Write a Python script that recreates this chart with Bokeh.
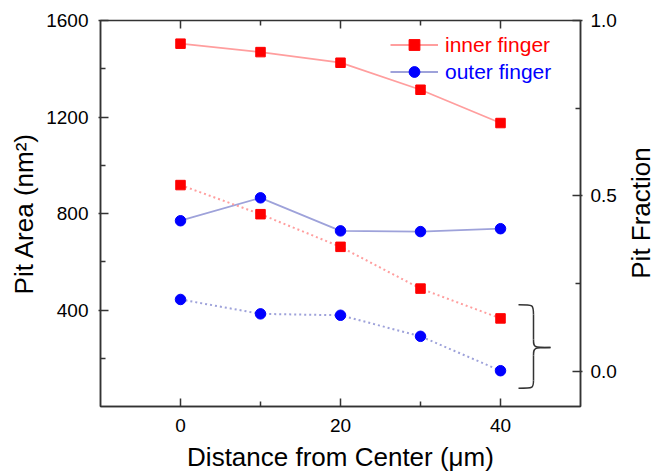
import math
from bokeh.plotting import figure
from bokeh.models import (Range1d, LinearAxis, FixedTicker, Legend, LegendItem,
                          NumeralTickFormatter, Label)
from bokeh.embed import file_html
from bokeh.resources import INLINE

# ---- data ----
distance = [0, 10, 20, 30, 40]
inner_area = [1504, 1469, 1425, 1313, 1175]
outer_area = [770, 865, 728, 725, 737]
inner_frac = [0.531, 0.448, 0.355, 0.236, 0.151]
outer_frac = [0.205, 0.164, 0.160, 0.100, 0.002]

x_ticks = [0, 20, 40]
x_minor = [10, 30]
area_ticks = [400, 800, 1200, 1600]
area_minor = [200, 600, 1000, 1400]
frac_ticks = [0.0, 0.5, 1.0]
frac_minor = [0.25, 0.75]

FONT = "Liberation Sans"
AX = "#333333"
RED = "#FF0000"
BLUE = "#0000FF"
RED_L = "#FF9E9E"
BLUE_L = "#9EA2DA"

W, H = 667, 474
BL, BR, BT, BB = 100, 87, 20, 67
X0, X1 = -10, 50
Y0, Y1 = 0, 1600

p = figure(width=W, height=H, output_backend="svg", toolbar_location=None,
           x_range=Range1d(X0, X1), y_range=Range1d(Y0, Y1),
           min_border_left=BL, min_border_right=BR, min_border_top=BT,
           min_border_bottom=BB)
p.extra_y_ranges = {"frac": Range1d(-0.1, 1.0)}
p.grid.visible = False
p.outline_line_color = AX
p.outline_line_width = 1.5
p.background_fill_color = "white"
p.border_fill_color = "white"


def style_axis(ax, ticks, minor):
    ax.ticker = FixedTicker(ticks=ticks, minor_ticks=minor)
    ax.axis_line_color = AX
    ax.axis_line_width = 1.5
    ax.major_tick_line_color = AX
    ax.minor_tick_line_color = AX
    ax.major_tick_line_width = 1.5
    ax.minor_tick_line_width = 1.5
    ax.major_tick_in = 8
    ax.major_tick_out = 2
    ax.minor_tick_in = 5
    ax.minor_tick_out = 0
    ax.major_label_text_font = FONT
    ax.major_label_text_font_size = "19px"
    ax.major_label_text_color = "black"
    ax.axis_label_text_font = FONT
    ax.axis_label_text_font_size = "26px"
    ax.axis_label_text_font_style = "normal"
    ax.axis_label_text_color = "black"


# left axis
style_axis(p.yaxis[0], area_ticks, area_minor)
p.yaxis[0].axis_label = "Pit Area (nm²)"
p.yaxis[0].major_label_standoff = 10
p.yaxis[0].axis_label_standoff = 4

# bottom axis
style_axis(p.xaxis[0], x_ticks, x_minor)
p.xaxis[0].major_tick_out = 0
p.xaxis[0].axis_label = "Distance from Center (μm)"
p.xaxis[0].major_label_standoff = 12
p.xaxis[0].axis_label_standoff = 7

# right axis
raxis = LinearAxis(y_range_name="frac",
                   formatter=NumeralTickFormatter(format="0.0"))
style_axis(raxis, frac_ticks, frac_minor)
raxis.major_label_standoff = 8
p.add_layout(raxis, "right")

frame_w = W - BL - BR
frame_h = H - BT - BB
# right-hand title, reading bottom-to-top, in the right side panel
p.add_layout(Label(x=21, y=frame_h / 2, x_units="screen", y_units="screen",
                   text="Pit Fraction", angle=math.pi / 2,
                   text_align="center", text_baseline="middle",
                   text_font=FONT, text_font_size="26px", text_color="black"),
             "right")

# top-edge ticks (mirrored from the bottom axis), length given in pixels
px_to_area = (Y1 - Y0) / frame_h
top_x = x_ticks + x_minor
top_len = [8 * px_to_area] * len(x_ticks) + [5 * px_to_area] * len(x_minor)
p.segment(x0=top_x, y0=[Y1] * len(top_x), x1=top_x,
          y1=[Y1 - l for l in top_len], line_color=AX, line_width=1.5)

# ---- series ----
l1 = p.line(distance, inner_area, line_color=RED_L, line_width=1.8)
s1 = p.scatter(distance, inner_area, marker="square", size=9.5,
               fill_color=RED, line_color=RED)
l2 = p.line(distance, outer_area, line_color=BLUE_L, line_width=1.8)
s2 = p.scatter(distance, outer_area, marker="circle", size=10.5,
               fill_color=BLUE, line_color=BLUE)

p.line(distance, inner_frac, y_range_name="frac", line_color=RED_L,
       line_width=2, line_dash="2 3")
p.scatter(distance, inner_frac, y_range_name="frac", marker="square", size=9.5,
          fill_color=RED, line_color=RED)
p.line(distance, outer_frac, y_range_name="frac", line_color=BLUE_L,
       line_width=2, line_dash="2 3")
p.scatter(distance, outer_frac, y_range_name="frac", marker="circle", size=10.5,
          fill_color=BLUE, line_color=BLUE)

# ---- curly brace annotation (in frac coordinates) ----
bx0, bx1, bx2 = 42.25, 44.125, 46.25
p.bezier(x0=[bx0, bx1, bx2, bx1], y0=[0.190, 0.091, 0.068, -0.026],
         x1=[bx1, bx2, bx1, bx0], y1=[0.162, 0.068, 0.045, -0.048],
         cx0=[bx1, bx1, bx1, bx1], cy0=[0.190, 0.068, 0.068, -0.048],
         cx1=[bx1, bx1, bx1, bx1], cy1=[0.190, 0.068, 0.068, -0.048],
         y_range_name="frac", line_color=AX, line_width=1.5)
p.segment(x0=[bx1, bx1], y0=[0.162, 0.045], x1=[bx1, bx1], y1=[0.091, -0.026],
          y_range_name="frac", line_color=AX, line_width=1.5)

# ---- legends ----
for label, rends, color, loc in (("inner finger", [l1, s1], RED, (290, 348)),
                                 ("outer finger", [l2, s2], BLUE, (290, 321))):
    lg = Legend(items=[LegendItem(label=label, renderers=rends)], location=loc)
    lg.border_line_color = None
    lg.background_fill_alpha = 0
    lg.padding = 0
    lg.margin = 0
    lg.spacing = 0
    lg.glyph_width = 48
    lg.glyph_height = 27
    lg.label_standoff = 7
    lg.label_text_font = FONT
    lg.label_text_font_size = "21px"
    lg.label_text_color = color
    lg.label_height = 27
    p.add_layout(lg, "center")

open("out.html", "w").write(file_html(p, INLINE))
